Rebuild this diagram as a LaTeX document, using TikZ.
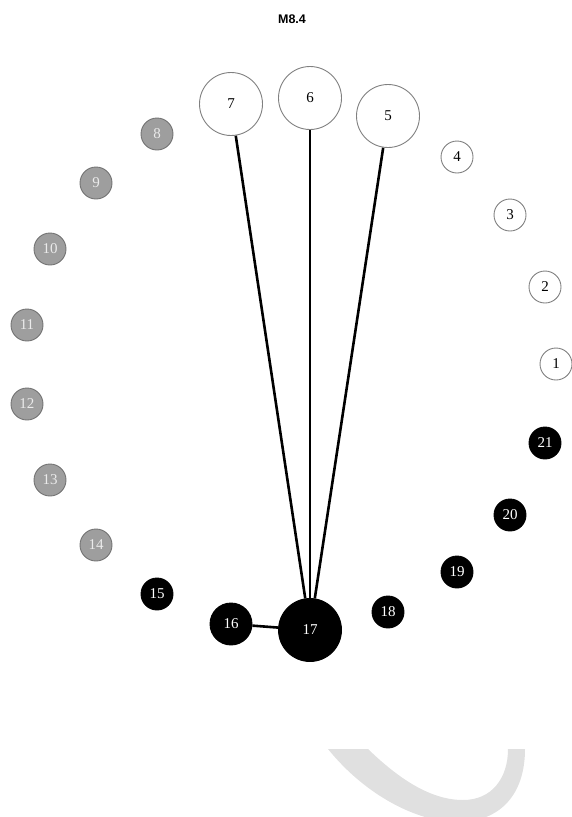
\documentclass[tikz,border=0pt]{standalone}
\usepackage{fontspec}
\setmainfont{Liberation Serif}
\newfontfamily\titlefont{Liberation Sans}
\usetikzlibrary{backgrounds}
\begin{document}
\begin{tikzpicture}[x=1pt,y=-1pt,
  nd/.style={circle,inner sep=0pt,font=\fontsize{15}{15}\selectfont,line width=0.9pt},
  big/.style={nd,minimum size=63pt},
  med/.style={nd,minimum size=42pt},
  small/.style={nd,minimum size=32pt},
  wnode/.style={draw=black!50,fill=white,text=black},
  gnode/.style={draw=black!55,fill=black!38,text=black!8},
  bnode/.style={draw=black,fill=black,text=white},
  edge/.style={line width=2.6pt,black},
  wm/.style={fill=black!12}]
\useasboundingbox (0,0) rectangle (572,817);
% watermark
\fill[wm] (328,749) .. controls (365,795) and (420,825) .. (465,822)
  .. controls (505,818) and (525,790) .. (525,749) -- (508,749)
  .. controls (508,778) and (492,800) .. (463,800)
  .. controls (430,800) and (398,778) .. (368,749) -- cycle;
\node[font=\titlefont\bfseries\fontsize{12.5}{12.5}\selectfont] (title) at (292,19) {M8.4};
% nodes
\node[big,wnode] (n7) at (231,104) {7};
\node[big,wnode] (n6) at (310,98) {6};
\node[big,wnode] (n5) at (388,116) {5};
\node[small,wnode] (n4) at (457,157) {4};
\node[small,wnode] (n3) at (510,215) {3};
\node[small,wnode] (n2) at (545,287) {2};
\node[small,wnode] (n1) at (556,364) {1};
\node[small,bnode] (n21) at (545,443) {21};
\node[small,bnode] (n20) at (510,515) {20};
\node[small,bnode] (n19) at (457,572) {19};
\node[small,bnode] (n18) at (388,612) {18};
\node[big,bnode] (n17) at (310,630) {17};
\node[med,bnode] (n16) at (231,624) {16};
\node[small,bnode] (n15) at (157,594) {15};
\node[small,gnode] (n14) at (96,545) {14};
\node[small,gnode] (n13) at (50,480) {13};
\node[small,gnode] (n12) at (27,404) {12};
\node[small,gnode] (n11) at (27,325) {11};
\node[small,gnode] (n10) at (50,249) {10};
\node[small,gnode] (n9) at (96,183) {9};
\node[small,gnode] (n8) at (157,134) {8};
% edges
\begin{scope}[on background layer]
\draw[edge] (n17) -- (n7);
\draw[edge] (n17) -- (n6);
\draw[edge] (n17) -- (n5);
\draw[edge] (n17) -- (n16);
\end{scope}
\end{tikzpicture}
\end{document}
